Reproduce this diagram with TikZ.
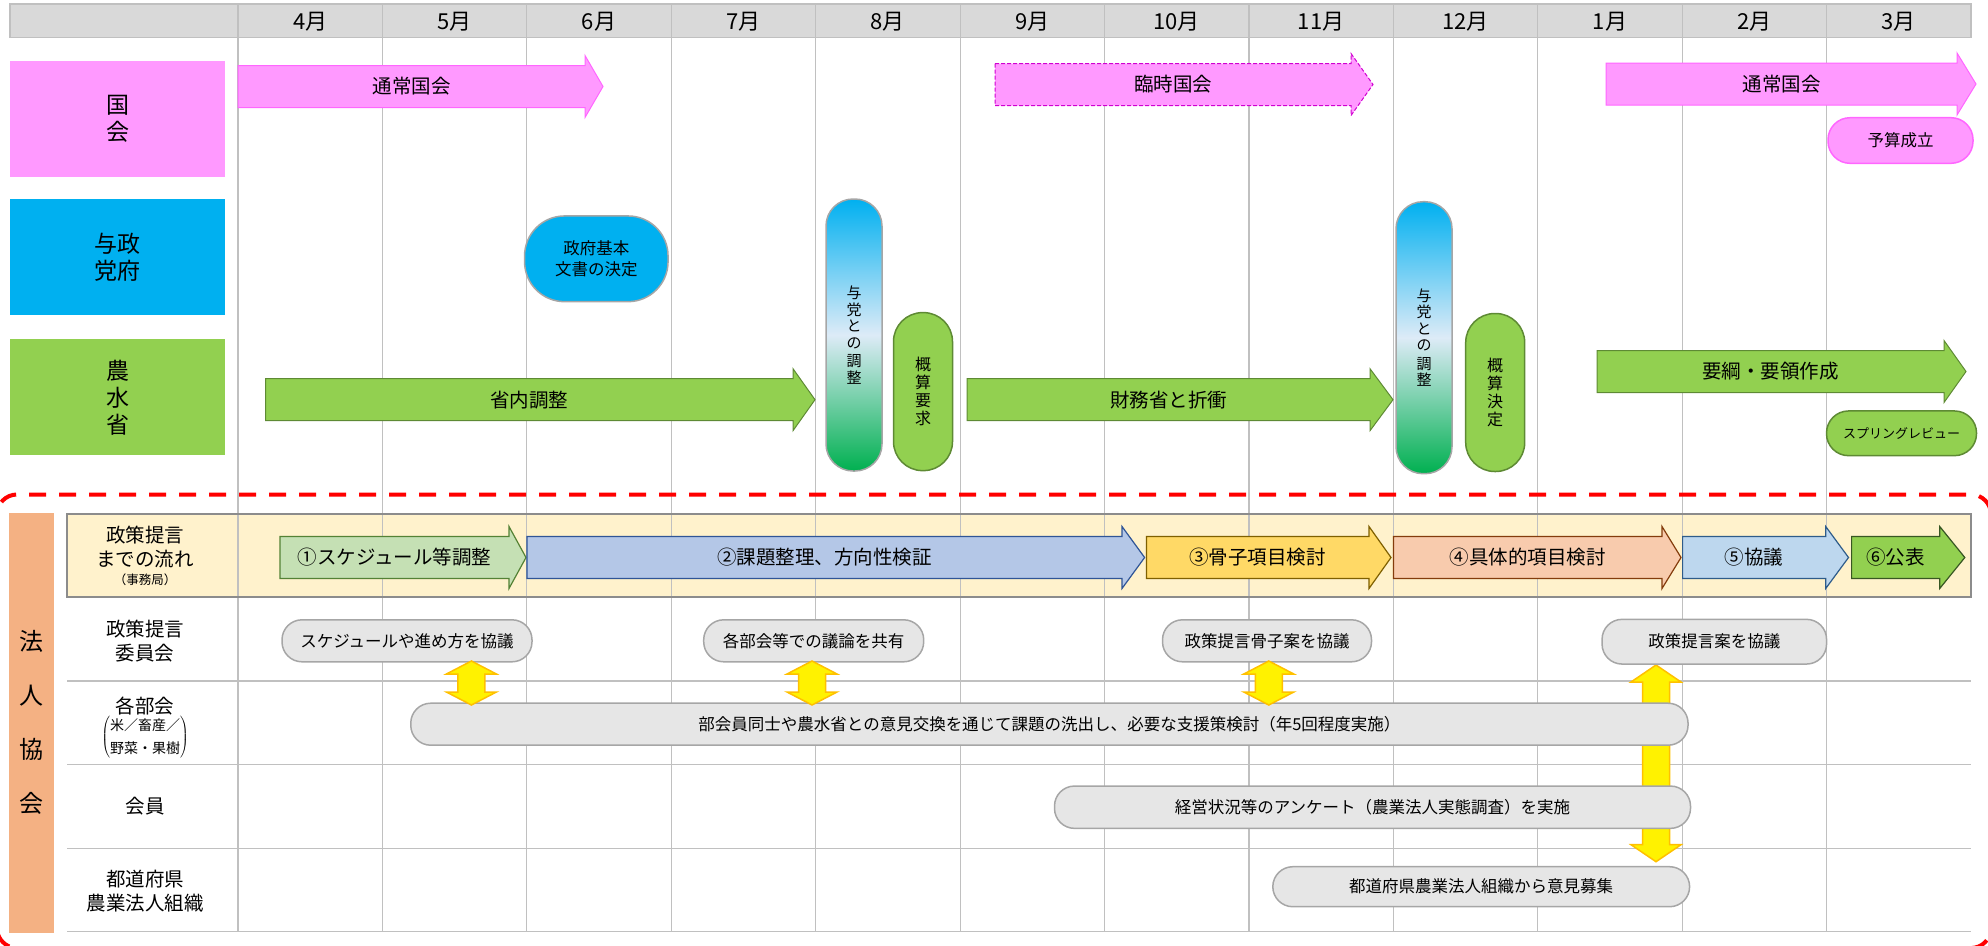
\documentclass[tikz,border=0pt]{standalone}
\usepackage{fontspec}
\setmainfont{Noto Sans CJK JP}
\usetikzlibrary{positioning}

\definecolor{pinkF}{HTML}{FF99FF}
\definecolor{pinkD}{HTML}{FF66FF}
\definecolor{pinkDash}{HTML}{D000D0}
\definecolor{blueF}{HTML}{00B0F0}
\definecolor{greenF}{HTML}{92D050}
\definecolor{greenD}{HTML}{5E8A34}
\definecolor{greenS}{HTML}{00B050}
\definecolor{paleB}{HTML}{DDEBF7}
\definecolor{salmon}{HTML}{F4B183}
\definecolor{bandF}{HTML}{FFF2CC}
\definecolor{bandD}{HTML}{8C8C8C}
\definecolor{headF}{HTML}{D9D9D9}
\definecolor{gridC}{HTML}{C0C0C0}
\definecolor{pillF}{HTML}{E6E6E6}
\definecolor{pillD}{HTML}{A6A6A6}
\definecolor{yelD}{HTML}{FFC000}
\definecolor{frameR}{HTML}{FF0000}
\definecolor{stepA}{HTML}{C5E0B4}\definecolor{stepAD}{HTML}{548235}
\definecolor{stepB}{HTML}{B4C7E7}\definecolor{stepBD}{HTML}{2F5597}
\definecolor{stepC}{HTML}{FFD966}\definecolor{stepCD}{HTML}{7F6000}
\definecolor{stepD}{HTML}{F8CBAD}\definecolor{stepDD}{HTML}{843C0C}
\definecolor{stepE}{HTML}{BDD7EE}\definecolor{stepED}{HTML}{2E5C8A}
\definecolor{stepFD}{HTML}{385723}

% block arrow: style, name, tail x, head x, tip x, centre y, text
\newcommand{\barrow}[7]{%
  \draw[#1] (#3,#6-21) -- (#4,#6-21) -- (#4,#6-31) -- (#5,#6)
    -- (#4,#6+31) -- (#4,#6+21) -- (#3,#6+21) -- cycle;
  \node[bartext] (#2) at ({(#3+#4)/2},#6) {#7};}
% yellow two-way arrow: x, top y, bottom y, head length
\newcommand{\ylink}[4]{%
  \draw[linkarrow] (#1-13.5,#2+#4) -- (#1-25,#2+#4) -- (#1,#2) -- (#1+25,#2+#4)
    -- (#1+13.5,#2+#4) -- (#1+13.5,#3-#4) -- (#1+25,#3-#4) -- (#1,#3)
    -- (#1-25,#3-#4) -- (#1-13.5,#3-#4) -- cycle;}

\begin{document}
\begin{tikzpicture}[x=1pt, y=-1pt,
  every node/.style={inner sep=0pt, align=center},
  gridline/.style={draw=gridC, line width=1.2pt},
  month/.style={font=\fontsize{22}{24}\selectfont},
  rowhead/.style={minimum width=215pt, minimum height=116pt, font=\fontsize{23}{27}\selectfont},
  rowlabel/.style={font=\fontsize{19.5}{23.5}\selectfont},
  bartext/.style={font=\fontsize{19.5}{22}\selectfont},
  pinkbar/.style={fill=pinkF, draw=pinkD, line width=1pt},
  pinkdash/.style={fill=pinkF, draw=pinkDash, line width=1pt, dash pattern=on 4pt off 2pt},
  greenbar/.style={fill=greenF, draw=greenD, line width=1pt},
  pill/.style={fill=pillF, draw=pillD, line width=1.5pt, rounded corners=20pt,
    minimum height=42pt, font=\fontsize{16.5}{19}\selectfont},
  party/.style={draw=pillD, line width=1.5pt, top color=blueF, bottom color=greenS,
    middle color=paleB, rounded corners=27pt, minimum width=56pt, minimum height=272pt,
    font=\fontsize{15}{16.5}\selectfont},
  budget/.style={fill=greenF, draw=greenD, line width=1.5pt, rounded corners=29pt,
    minimum width=59pt, minimum height=158pt, font=\fontsize{16}{18}\selectfont},
  linkarrow/.style={fill=yellow, draw=yelD, line width=1.5pt}]

  \useasboundingbox (0,0) rectangle (1988,945);

  % header and band
  \fill[headF] (10,4) rectangle (1971,37.7);
  \fill[bandF] (67,513.5) rectangle (1971,596.5);
  \foreach \i in {0,...,11}
    \draw[gridline] ({238+144.42*\i},4) -- ({238+144.42*\i},932);
  \foreach \y in {681,764.3,848.3,931.7}
    \draw[gridline] (67,\y) -- (1971,\y);
  \draw[gridC, line width=1.2pt] (10,4) rectangle (1971,37.7);
  \draw[bandD, line width=2pt] (67,513.5) rectangle (1971,596.5);
  \foreach \m [count=\i from 0] in {4,5,6,7,8,9,10,11,12,1,2,3}
    \node[month] (m\i) at ({310.2+144.42*\i},22) {{\m}月};

  \draw[frameR, line width=4pt, dash pattern=on 17pt off 13pt, rounded corners=20pt]
    (-3,494.5) rectangle (1991,948);

  % row heads
  \node[rowhead, fill=pinkF] (kokkai) at (117.5,119) {国\\会};
  \node[rowhead, fill=blueF] (yoto) at (117.5,257.3) {与政\\党府};
  \node[rowhead, fill=greenF] (nosui) at (117.5,397.3) {農\\水\\省};
  \node[fill=salmon, minimum width=45pt, minimum height=420pt,
    font=\fontsize{24}{54}\selectfont] (hojin) at (31.5,722.7) {法\\人\\協\\会};

  \node[rowlabel] (flowlbl) at (145,556) {政策提言\\までの流れ\\[-5pt]{\fontsize{12.5}{13}\selectfont（事務局）}};
  \node[rowlabel] (iinkai) at (145,641) {政策提言\\委員会};
  \node[rowlabel] (bukai) at (145,706) {各部会};
  \node[font=\fontsize{14}{16}\selectfont] (bukaisub) at (145,737) {\def\arraystretch{1.45}%
    $\left(\begin{tabular}{@{}c@{}}米／畜産／\\野菜・果樹\end{tabular}\right)$};
  \node[rowlabel] (kaiin) at (145,806) {会員};
  \node[rowlabel] (todofuken) at (145,891) {都道府県\\農業法人組織};

  % kokkai row
  \barrow{pinkbar}{tsujo1}{238}{585}{603}{86.5}{通常国会}
  \barrow{pinkdash}{rinji}{995}{1351}{1373}{84.5}{臨時国会}
  \barrow{pinkbar}{tsujo2}{1606}{1957}{1976}{84}{通常国会}
  \node[fill=pinkF, draw=pinkD, line width=1.5pt, rounded corners=22pt, minimum width=145pt,
    minimum height=45.6pt, font=\fontsize{16.5}{19}\selectfont] (yosan) at (1900.5,140.5) {予算成立};

  % yoto row
  \node[fill=blueF, draw=pillD, line width=1.5pt, rounded corners=40pt, minimum width=143.5pt,
    minimum height=85.7pt, font=\fontsize{16.5}{21.7}\selectfont] (kihon) at (596.3,258.8) {政府基本\\文書の決定};

  % nosui row
  \barrow{greenbar}{shonai}{265.6}{793}{815}{399.7}{省内調整}
  \node[party] (party1) at (854,335) {与\\党\\と\\の\\[2pt]調\\整};
  \node[budget] (gaisan1) at (923,391.6) {概\\算\\要\\求};
  \barrow{greenbar}{zaimu}{967}{1370}{1393}{399.7}{財務省と折衝}
  \node[party] (party2) at (1424,337.7) {与\\党\\と\\の\\[2pt]調\\整};
  \node[budget] (gaisan2) at (1495.2,392.5) {概\\算\\決\\定};
  \barrow{greenbar}{yoko}{1597}{1944}{1966}{371.5}{要綱・要領作成}
  \node[fill=greenF, draw=greenD, line width=1.5pt, rounded corners=22pt, minimum width=150pt,
    minimum height=44.7pt, font=\fontsize{13}{15}\selectfont] (spring) at (1901.5,433.3) {スプリングレビュー};

  % steps
  \barrow{fill=stepA, draw=stepAD, line width=1.2pt}{step1}{280}{509}{526}{557.5}{①スケジュール等調整}
  \barrow{fill=stepB, draw=stepBD, line width=1.2pt}{step2}{527}{1122}{1144.6}{557.5}{②課題整理、方向性検証}
  \barrow{fill=stepC, draw=stepCD, line width=1.2pt}{step3}{1146.4}{1369}{1391}{557.5}{③骨子項目検討}
  \barrow{fill=stepD, draw=stepDD, line width=1.2pt}{step4}{1393.5}{1662}{1681}{557.5}{④具体的項目検討}
  \barrow{fill=stepE, draw=stepED, line width=1.2pt}{step5}{1682.6}{1825.7}{1848.5}{557.5}{⑤協議}
  \barrow{fill=greenF, draw=stepFD, line width=1.2pt}{step6}{1851.6}{1939.7}{1964.8}{557.5}{⑥公表}

  % meetings
  \ylink{1656}{665}{861.7}{17}
  \node[pill, minimum width=250pt] (sched) at (407,640.8) {スケジュールや進め方を協議};
  \node[pill, minimum width=220pt] (share) at (813.7,640.8) {各部会等での議論を共有};
  \node[pill, minimum width=209pt] (kosshi) at (1267,640.8) {政策提言骨子案を協議};
  \node[pill, minimum width=224.5pt, minimum height=44.7pt] (teigen) at (1714.3,641.7) {政策提言案を協議};
  \node[pill, minimum width=1277.3pt] (bukaimtg) at (1049.4,724.2) {部会員同士や農水省との意見交換を通じて課題の洗出し、必要な支援策検討（年5回程度実施）};
  \node[pill, minimum width=636pt, minimum height=42.3pt] (survey) at (1372.5,807.2) {経営状況等のアンケート（農業法人実態調査）を実施};
  \node[pill, minimum width=416.8pt, minimum height=40pt] (boshu) at (1481.2,886.7) {都道府県農業法人組織から意見募集};
  \ylink{471.4}{661}{705}{13}
  \ylink{812}{661}{705}{13}
  \ylink{1268.8}{661}{705}{13}
\end{tikzpicture}
\end{document}
